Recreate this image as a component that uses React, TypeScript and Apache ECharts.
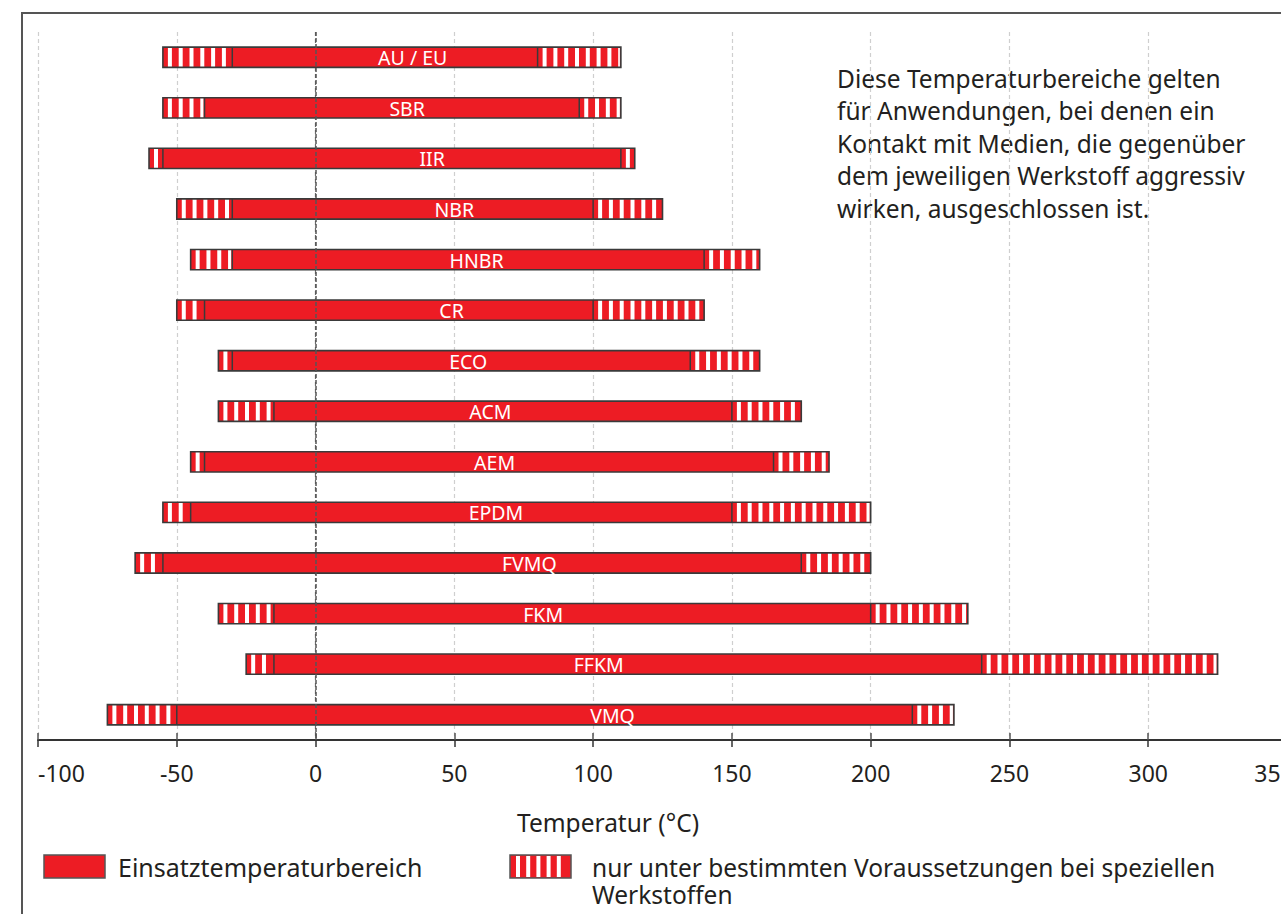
import React, { useEffect, useRef } from "react";
import * as echarts from "echarts";

const categories = ["AU / EU", "SBR", "IIR", "NBR", "HNBR", "CR", "ECO", "ACM", "AEM", "EPDM", "FVMQ", "FKM", "FFKM", "VMQ"];
// extended (special conditions) lower limit
const extMin = [-55, -55, -60, -50, -45, -50, -35, -35, -45, -55, -65, -35, -25, -75];
// regular operating range
const useMin = [-30, -40, -55, -30, -30, -40, -30, -15, -40, -45, -55, -15, -15, -50];
const useMax = [80, 95, 110, 100, 140, 100, 135, 150, 165, 150, 175, 200, 240, 215];
// extended upper limit
const extMax = [110, 110, 115, 125, 160, 140, 160, 175, 185, 200, 200, 235, 325, 230];
// label anchor (°C)
const labelAt = [35, 33, 42, 50, 58, 49, 55, 63, 64.5, 65, 77, 82, 102, 107];

const xTicks = { min: -100, max: 350, interval: 50 };

const RED = "#ed1c24";
const EDGE = "#3a3a3a";
const FONT = "'Noto Sans', 'Open Sans', sans-serif";
const TXT = "#231f20";

function stripes(x0: number, x1: number, top: number, h: number) {
  const out: any[] = [];
  for (let s = x0 + 5; s + 1 < x1; s += 10.8) {
    const w = Math.min(4, x1 - 1 - s);
    if (w <= 0.5) break;
    out.push({ type: "rect", shape: { x: s, y: top, width: w, height: h }, style: { fill: "#ffffff" }, silent: true });
  }
  return out;
}

export default function App() {
  const ref = useRef<HTMLDivElement>(null);
  useEffect(() => {
    if (!ref.current) return;
    const chart = echarts.init(ref.current, undefined, { renderer: "svg" });
    const data = categories.map((c, i) => [i, extMin[i], useMin[i], useMax[i], extMax[i], labelAt[i]]);

    const legendStripes: any[] = [];
    for (let s = 516; s < 567; s += 10.2) {
      legendStripes.push({ type: "rect", shape: { x: s, y: 856, width: 4, height: 21 }, style: { fill: "#fff" } });
    }

    const option: any = {
      animation: false,
      grid: { left: 38, top: 32, width: 1249, height: 708, containLabel: false, outerBoundsMode: "none" },
      xAxis: [
        {
          type: "value",
          min: xTicks.min,
          max: xTicks.max,
          interval: xTicks.interval,
          axisLine: { show: true, lineStyle: { color: "#333", width: 2 } },
          axisTick: { show: true, length: 7, lineStyle: { color: "#333", width: 1.5 } },
          axisLabel: {
            margin: 21,
            fontSize: 23,
            color: TXT,
            fontFamily: FONT,
            alignMinLabel: "left",
            formatter: (v: number) => (v === xTicks.max ? `{m|${v}}` : `${v}`),
            rich: { m: { fontSize: 23, color: TXT, fontFamily: FONT, padding: [0, 26, 0, 0] } },
          },
          splitLine: {
            show: true,
            lineStyle: {
              type: [4, 3],
              color: ["#cfcfcf", "#cfcfcf", "#6a6a6a", "#cfcfcf", "#cfcfcf", "#cfcfcf", "#cfcfcf", "#cfcfcf", "#cfcfcf", "#cfcfcf"],
              width: 1.2,
            },
          },
        },
        {
          type: "value",
          min: xTicks.min,
          max: xTicks.max,
          interval: xTicks.interval,
          position: "bottom",
          axisLine: { show: false },
          axisTick: { show: true, inside: true, length: 7, lineStyle: { color: "#555", width: 1.5 } },
          axisLabel: { show: false },
          splitLine: { show: false },
        },
      ],
      yAxis: { type: "category", data: categories, inverse: true, show: false },
      series: [
        {
          type: "custom",
          xAxisIndex: 0,
          encode: { x: [1, 2, 3, 4], y: 0 },
          data,
          z: 2,
          renderItem: (params: any, api: any) => {
            const idx = api.value(0);
            const a = api.coord([api.value(1), idx]);
            const b = api.coord([api.value(2), idx]);
            const c = api.coord([api.value(3), idx]);
            const d = api.coord([api.value(4), idx]);
            const l = api.coord([api.value(5), idx]);
            const h = api.size([0, 1])[1] * 0.4;
            const top = a[1] - h / 2;
            const children: any[] = [
              { type: "rect", shape: { x: a[0], y: top, width: d[0] - a[0], height: h }, style: { fill: RED } },
              ...stripes(a[0], b[0], top, h),
              ...stripes(c[0], d[0], top, h),
              { type: "line", shape: { x1: b[0], y1: top, x2: b[0], y2: top + h }, style: { stroke: EDGE, lineWidth: 1.5 } },
              { type: "line", shape: { x1: c[0], y1: top, x2: c[0], y2: top + h }, style: { stroke: EDGE, lineWidth: 1.5 } },
              { type: "rect", shape: { x: a[0], y: top, width: d[0] - a[0], height: h }, style: { fill: "none", stroke: EDGE, lineWidth: 1.6 } },
              {
                type: "text",
                x: l[0],
                y: a[1] + 0.5,
                style: {
                  text: categories[idx],
                  fill: "#ffffff",
                  font: `19.5px ${FONT}`,
                  align: "center",
                  verticalAlign: "middle",
                },
                z2: 10,
              },
            ];
            return { type: "group", children };
          },
        },
        {
          type: "line",
          data: [],
          z: 5,
          markLine: {
            silent: true,
            symbol: "none",
            label: { show: false },
            lineStyle: { color: "#555", type: [4, 2], width: 1.5 },
            data: [{ xAxis: 0 }],
          },
        },
      ],
      graphic: [
        { type: "polyline", shape: { points: [[22, 914], [22, 13], [1281, 13]] }, style: { stroke: "#555", lineWidth: 2, fill: "none" } },
        {
          type: "text",
          left: 837,
          top: 62,
          style: {
            text: "Diese Temperaturbereiche gelten\nfür Anwendungen, bei denen ein\nKontakt mit Medien, die gegenüber\ndem jeweiligen Werkstoff aggressiv\nwirken, ausgeschlossen ist.",
            font: `24.5px ${FONT}`,
            lineHeight: 32.5,
            fill: TXT,
          },
        },
        {
          type: "text",
          x: 608,
          y: 822,
          style: { text: "Temperatur (°C)", font: `24.5px ${FONT}`, fill: TXT, align: "center", verticalAlign: "middle" },
        },
        { type: "rect", shape: { x: 44, y: 855, width: 61, height: 23 }, style: { fill: RED, stroke: "#555", lineWidth: 1.5 } },
        {
          type: "text",
          x: 118,
          y: 867,
          style: { text: "Einsatztemperaturbereich", font: `25px ${FONT}`, fill: TXT, verticalAlign: "middle" },
        },
        { type: "rect", shape: { x: 510, y: 855, width: 61, height: 23 }, style: { fill: RED } },
        ...legendStripes,
        { type: "rect", shape: { x: 510, y: 855, width: 61, height: 23 }, style: { fill: "none", stroke: "#555", lineWidth: 1.5 } },
        {
          type: "text",
          x: 592,
          y: 867,
          style: { text: "nur unter bestimmten Voraussetzungen bei speziellen", font: `24.5px ${FONT}`, fill: TXT, verticalAlign: "middle" },
        },
        {
          type: "text",
          x: 592,
          y: 894,
          style: { text: "Werkstoffen", font: `24.5px ${FONT}`, fill: TXT, verticalAlign: "middle" },
        },
      ],
    };
    chart.setOption(option);
    return () => chart.dispose();
  }, []);
  return <div ref={ref} style={{ position: "absolute", left: 0, top: 0, width: 1281, height: 914 }} />;
}
